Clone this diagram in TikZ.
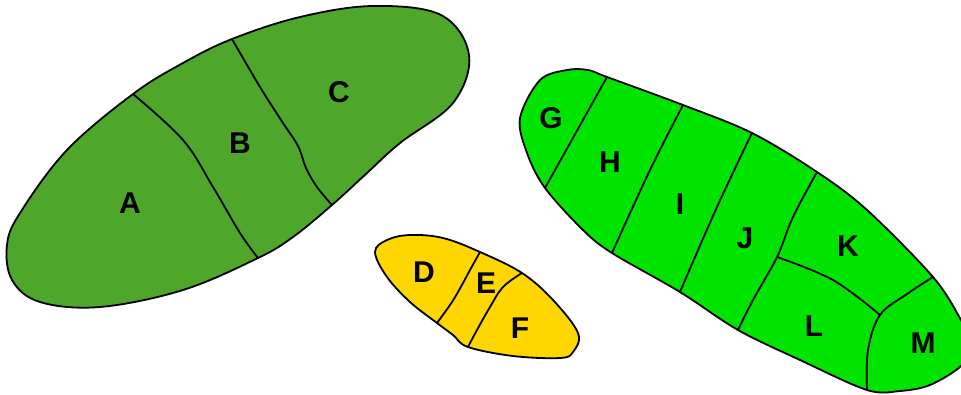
\documentclass[tikz,border=0pt]{standalone}
\usepackage{fontspec}
\setmainfont{Liberation Sans}
\definecolor{leafdark}{RGB}{78,167,42}
\definecolor{leaflight}{RGB}{0,228,0}
\definecolor{leafyellow}{RGB}{255,214,0}
\begin{document}
\begin{tikzpicture}
[x=1pt,y=-1pt,line width=1.8pt,line join=round,
 lab/.style={font=\fontsize{30}{36}\selectfont\bfseries}]
\useasboundingbox (0,0) rectangle (961,394);
% dark green blob A B C
\coordinate (ab1) at (133,94);
\coordinate (ab2) at (258,258);
\coordinate (bc1) at (232,39);
\coordinate (bc2) at (332,205);
\filldraw [fill=leafdark] plot[smooth cycle,tension=0.6] coordinates {(7,245) (20,213) (67,150) (ab1) (183,63) (bc1) (300,17) (373,6) (441,15) (469,55) (453,103) (400,143) (367,173) (bc2) (293,237) (ab2) (183,290) (100,307) (40,302) (12,280)};
\draw plot[smooth,tension=0.6] coordinates {(ab1) (183,140) (213,187) (240,233) (ab2)};
\draw plot[smooth,tension=0.6] coordinates {(bc1) (260,87) (283,123) (298,146) (306,168) (317,187) (bc2)};
\node [lab] (a) at (130,203) {A};
\node [lab] (b) at (240,143) {B};
\node [lab] (c) at (339,92) {C};
% yellow blob D E F
\coordinate (de1) at (480,252);
\coordinate (de2) at (437,323);
\coordinate (ef1) at (522,273);
\coordinate (ef2) at (468,347);
\filldraw [fill=leafyellow] plot[smooth cycle,tension=0.6] coordinates {(375,252) (387,240) (410,235) (443,238) (de1) (ef1) (553,300) (578,333) (573,352) (560,358) (513,356) (ef2) (453,335) (de2) (410,302) (387,277)};
\draw plot[smooth,tension=0.6] coordinates {(de1) (470,270) (463,283) (452,302) (de2)};
\draw plot[smooth,tension=0.6] coordinates {(ef1) (503,287) (490,307) (477,330) (ef2)};
\node [lab] (d) at (424,272) {D};
\node [lab] (e) at (486,283) {E};
\node [lab] (f) at (520,328) {F};
% bright green blob G to M
\coordinate (gh1) at (607,77);
\coordinate (gh2) at (545,188);
\coordinate (hi1) at (683,105);
\coordinate (hi2) at (612,253);
\coordinate (ij1) at (752,133);
\coordinate (ij2) at (680,292);
\coordinate (jk1) at (817,172);
\coordinate (jkl) at (777,257);
\coordinate (jl2) at (738,330);
\coordinate (klm) at (880,315);
\coordinate (km1) at (933,277);
\coordinate (lm2) at (867,390);
\begin{scope}
\clip (0,0) rectangle (961,394);
\filldraw [fill=leaflight] plot[smooth cycle,tension=0.55] coordinates {(540,80) (567,70) (588,70) (gh1) (hi1) (ij1) (jk1) (867,210) (km1) (961,320) (972,345) (961,366) (930,385) (900,391) (lm2) (800,360) (jl2) (ij2) (hi2) (583,230) (gh2) (527,153) (520,118)};
\end{scope}
\draw (gh1) -- (gh2);
\draw plot[smooth,tension=0.6] coordinates {(hi1) (650,170) (hi2)};
\draw plot[smooth,tension=0.6] coordinates {(ij1) (717,207) (ij2)};
\draw plot[smooth,tension=0.6] coordinates {(jk1) (793,217) (jkl) (753,300) (jl2)};
\draw plot[smooth,tension=0.6] coordinates {(jkl) (833,280) (klm)};
\draw plot[smooth,tension=0.6] coordinates {(km1) (907,294) (klm) (868,350) (lm2)};
\node [lab] (g) at (551,118) {G};
\node [lab] (h) at (610,162) {H};
\node [lab] (i) at (680,204) {I};
\node [lab] (j) at (745,238) {J};
\node [lab] (k) at (848,246) {K};
\node [lab] (l) at (814,326) {L};
\node [lab] (m) at (923,343) {M};
\end{tikzpicture}
\end{document}
